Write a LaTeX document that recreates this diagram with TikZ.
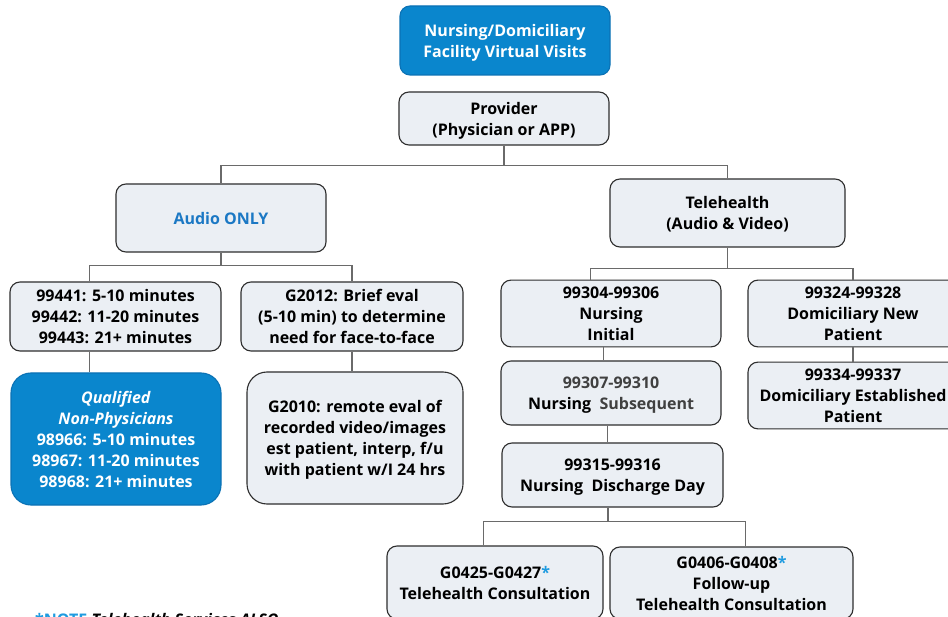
\documentclass[tikz,border=0pt]{standalone}
\usepackage{fontspec}
\setmainfont{Open Sans}
\definecolor{boxfill}{HTML}{EBEFF4}
\definecolor{bordc}{HTML}{2E2E2E}
\definecolor{bluefill}{HTML}{0A86CD}
\definecolor{blueborder}{HTML}{0B72B5}
\definecolor{textblue}{HTML}{1B78C4}
\definecolor{starblue}{HTML}{1E9BE0}
\definecolor{connc}{HTML}{6A6A6A}
\definecolor{softgray}{HTML}{404040}
\newcommand{\mytop}{\rule{0pt}{18.8pt}}
\newcommand{\mybot}{\rule[-6pt]{0pt}{6pt}}
\begin{document}
\begin{tikzpicture}[x=1pt,y=-1pt,
  box/.style={draw=bordc, fill=boxfill, rounded corners=10pt, line width=1.1pt,
    align=center, inner sep=0pt, text=black,
    font=\bfseries\fontsize{16}{21}\selectfont},
  bluebox/.style={box, draw=blueborder, fill=bluefill, text=white},
  bigcorner/.style={rounded corners=20pt},
  conn/.style={draw=connc, line width=1.4pt}]
\useasboundingbox (0,0) rectangle (948,617);
\fill[white] (0,0) rectangle (948,617);

\node[bluebox, minimum width=210, minimum height=69] (top) at (505,40.5)
  {\mytop Nursing/Domiciliary\\Facility Virtual Visits\mybot};
\node[box, minimum width=210, minimum height=53] (prov) at (504,118.5)
  {\mytop Provider\\(Physician or APP)\mybot};
\node[box, minimum width=210, minimum height=68] (audio) at (221,218)
  {\mytop\textcolor{textblue}{Audio ONLY}\mybot};
\node[box, minimum width=235, minimum height=68] (tele) at (727.5,213)
  {\mytop Telehealth\\(Audio \& Video)\mybot};

\node[box, minimum width=211, minimum height=69] (n441) at (115.5,316.5)
  {\mytop 99441: 5-10 minutes\\99442: 11-20 minutes\\99443: 21+ minutes\mybot};
\node[box, minimum width=222, minimum height=69] (g2012) at (352,316.5)
  {\mytop G2012: Brief eval\\(5-10 min) to determine\\need for face-to-face\mybot};
\node[bluebox, bigcorner, minimum width=210, minimum height=132] (qual) at (116,439)
  {\mytop\textit{Qualified}\\\textit{Non-Physicians}\\98966: 5-10 minutes\\98967: 11-20 minutes\\98968: 21+ minutes\mybot};
\node[box, bigcorner, minimum width=216, minimum height=132] (g2010) at (355,438)
  {\mytop G2010: remote eval of\\recorded video/images\\est patient, interp, f/u\\with patient w/I 24 hrs\mybot};

\node[box, minimum width=220, minimum height=63] (n304) at (611,313.5)
  {\mytop 99304-99306\\Nursing\\Initial\mybot};
\node[box, minimum width=210, minimum height=63] (n324) at (853,313.5)
  {\mytop 99324-99328\\Domiciliary New\\Patient\mybot};
\node[box, minimum width=220, minimum height=64] (n307) at (611,393)
  {\mytop\textcolor{softgray}{99307-99310}\\Nursing\ \ \textcolor{softgray}{Subsequent}\mybot};
\node[box, minimum width=210, minimum height=63] (n334) at (853,395.5)
  {\mytop 99334-99337\\Domiciliary Established\\Patient\mybot};
\node[box, minimum width=221, minimum height=64] (n315) at (612.5,475)
  {\mytop 99315-99316\\Nursing\ \ Discharge Day\mybot};
\node[box, minimum width=216, minimum height=73] (g425) at (495,582.5)
  {\mytop G0425-G0427\textcolor{starblue}{*}\\Telehealth Consultation\mybot};
\node[box, minimum width=243, minimum height=72] (g406) at (731.5,583)
  {\mytop G0406-G0408\textcolor{starblue}{*}\\Follow-up\\Telehealth Consultation\mybot};

\node[anchor=base west, inner sep=0pt, font=\bfseries\fontsize{16}{21}\selectfont] (note) at (35,625)
  {\textcolor{starblue}{*NOTE}\ \textit{Telehealth Services ALSO}};

% connectors
\draw[conn] (prov.south) -- ++(0,20) coordinate (j1);
\draw[conn] (audio.north) |- (j1) -| (tele.north);
\draw[conn] (audio.south) -- ++(0,13) coordinate (j2);
\draw[conn] ([xshift=80pt]n441.north west) |- (j2) -| (g2012.north);
\draw[conn] ([xshift=80pt]n441.south west) -- ([xshift=80pt]n441.south west |- qual.north);
\draw[conn] (g2012.south) -- (g2012.south |- g2010.north);
\draw[conn] (tele.south) -- ++(0,21) coordinate (j3);
\draw[conn] ([xshift=90pt]n304.north west) |- (j3) -| (n324.north);
\draw[conn] ([xshift=103pt]n304.south west) -- ([xshift=103pt]n304.south west |- n307.north);
\draw[conn] (n324.south) -- (n334.north);
\draw[conn] ([xshift=107pt]n307.south west) -- ([xshift=107pt]n307.south west |- n315.north);
\draw[conn] ([xshift=-4.5pt]n315.south) -- ++(0,14) coordinate (j4);
\draw[conn] ([xshift=97pt]g425.north west) |- (j4) -| ([xshift=136pt]g406.north west);
\end{tikzpicture}
\end{document}
